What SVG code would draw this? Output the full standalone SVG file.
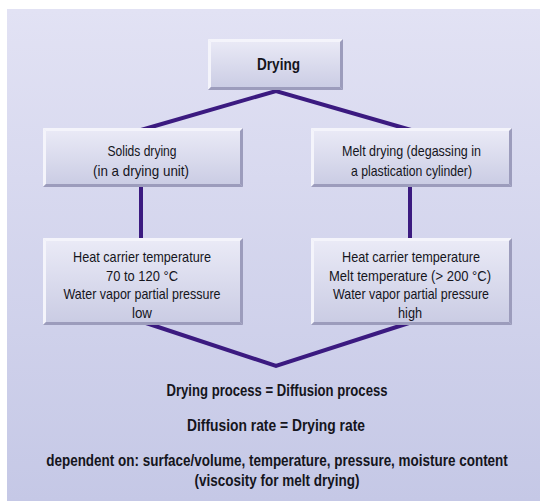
<svg xmlns="http://www.w3.org/2000/svg" width="540" height="504" viewBox="0 0 540 504">
<defs>
<linearGradient id="bg" x1="0" y1="0" x2="0" y2="1">
<stop offset="0" stop-color="#e2e2f4"/>
<stop offset="1" stop-color="#c5c8e6"/>
</linearGradient>
<linearGradient id="box" x1="0" y1="0" x2="0" y2="1">
<stop offset="0" stop-color="#ebebf7"/>
<stop offset="1" stop-color="#c9cbe3"/>
</linearGradient>
<style>
.bx{fill:url(#box)}
.hi{fill:#f4f4fb}
.sh{fill:#9c9cbc}
.t{font-family:"Liberation Sans","Arial",sans-serif;font-size:15px;fill:#15151c;text-anchor:middle}
.b{font-weight:bold;font-size:17px}
.c{fill:none;stroke:#3b1a80;stroke-width:4;stroke-linejoin:miter}
</style>
</defs>
<rect x="0" y="0" width="540" height="504" fill="#ffffff"/>
<rect x="7" y="9" width="533" height="492" fill="url(#bg)"/>
<g id="connectors">
<polyline class="c" points="141,130 276,91 411,130"/>
<line class="c" x1="141" y1="186" x2="141" y2="240"/>
<line class="c" x1="410" y1="186" x2="410" y2="240"/>
<polyline class="c" points="143,322 276,366 412,322"/>
</g>
<g id="drying">
<rect class="bx" x="208" y="39" width="135" height="51"/>
<polygon class="hi" points="208,39 343,39 340,42 211,42"/>
<polygon class="hi" points="208,39 211,42 211,87 208,90"/>
<polygon class="sh" points="343,39 343,90 340,87 340,42"/>
<polygon class="sh" points="208,90 343,90 340,87 211,87"/>
<text class="t b" x="278.5" y="69.5" style="font-size:16px" textLength="43" lengthAdjust="spacingAndGlyphs">Drying</text>
</g>
<g id="solids">
<rect class="bx" x="43" y="128" width="200" height="59"/>
<polygon class="hi" points="43,128 243,128 240,131 46,131"/>
<polygon class="hi" points="43,128 46,131 46,184 43,187"/>
<polygon class="sh" points="243,128 243,187 240,184 240,131"/>
<polygon class="sh" points="43,187 243,187 240,184 46,184"/>
<text class="t" x="142" y="155.5" textLength="69" lengthAdjust="spacingAndGlyphs">Solids drying</text>
<text class="t" x="141" y="175.5" textLength="96" lengthAdjust="spacingAndGlyphs">(in a drying unit)</text>
</g>
<g id="melt">
<rect class="bx" x="311" y="128" width="201" height="59"/>
<polygon class="hi" points="311,128 512,128 509,131 314,131"/>
<polygon class="hi" points="311,128 314,131 314,184 311,187"/>
<polygon class="sh" points="512,128 512,187 509,184 509,131"/>
<polygon class="sh" points="311,187 512,187 509,184 314,184"/>
<text class="t" x="411.5" y="155.5" textLength="139" lengthAdjust="spacingAndGlyphs">Melt drying (degassing in</text>
<text class="t" x="411.5" y="175.5" textLength="121" lengthAdjust="spacingAndGlyphs">a plastication cylinder)</text>
</g>
<g id="solids-cond">
<rect class="bx" x="43" y="238" width="200" height="87"/>
<polygon class="hi" points="43,238 243,238 240,241 46,241"/>
<polygon class="hi" points="43,238 46,241 46,322 43,325"/>
<polygon class="sh" points="243,238 243,325 240,322 240,241"/>
<polygon class="sh" points="43,325 243,325 240,322 46,322"/>
<text class="t" x="142" y="262" textLength="138" lengthAdjust="spacingAndGlyphs">Heat carrier temperature</text>
<text class="t" x="142" y="280.5" textLength="72" lengthAdjust="spacingAndGlyphs">70 to 120 °C</text>
<text class="t" x="142" y="299" textLength="157" lengthAdjust="spacingAndGlyphs">Water vapor partial pressure</text>
<text class="t" x="142" y="317.5" textLength="20" lengthAdjust="spacingAndGlyphs">low</text>
</g>
<g id="melt-cond">
<rect class="bx" x="311" y="238" width="201" height="87"/>
<polygon class="hi" points="311,238 512,238 509,241 314,241"/>
<polygon class="hi" points="311,238 314,241 314,322 311,325"/>
<polygon class="sh" points="512,238 512,325 509,322 509,241"/>
<polygon class="sh" points="311,325 512,325 509,322 314,322"/>
<text class="t" x="411" y="262" textLength="138" lengthAdjust="spacingAndGlyphs">Heat carrier temperature</text>
<text class="t" x="410" y="280.5" textLength="162" lengthAdjust="spacingAndGlyphs">Melt temperature (&gt; 200 °C)</text>
<text class="t" x="411" y="299" textLength="156" lengthAdjust="spacingAndGlyphs">Water vapor partial pressure</text>
<text class="t" x="410" y="317.5" textLength="24" lengthAdjust="spacingAndGlyphs">high</text>
</g>
<g id="notes">
<text class="t b" x="277" y="396" textLength="221" lengthAdjust="spacingAndGlyphs">Drying process = Diffusion process</text>
<text class="t b" x="276" y="431" textLength="178" lengthAdjust="spacingAndGlyphs">Diffusion rate = Drying rate</text>
<text class="t b" transform="translate(277,466) scale(0.8,1)" x="0" y="0" style="font-size:16px" textLength="577" lengthAdjust="spacingAndGlyphs">dependent on: surface/volume, temperature, pressure, moisture content</text>
<text class="t b" x="277" y="486" style="font-size:16px" textLength="165" lengthAdjust="spacingAndGlyphs">(viscosity for melt drying)</text>
</g>
</svg>
